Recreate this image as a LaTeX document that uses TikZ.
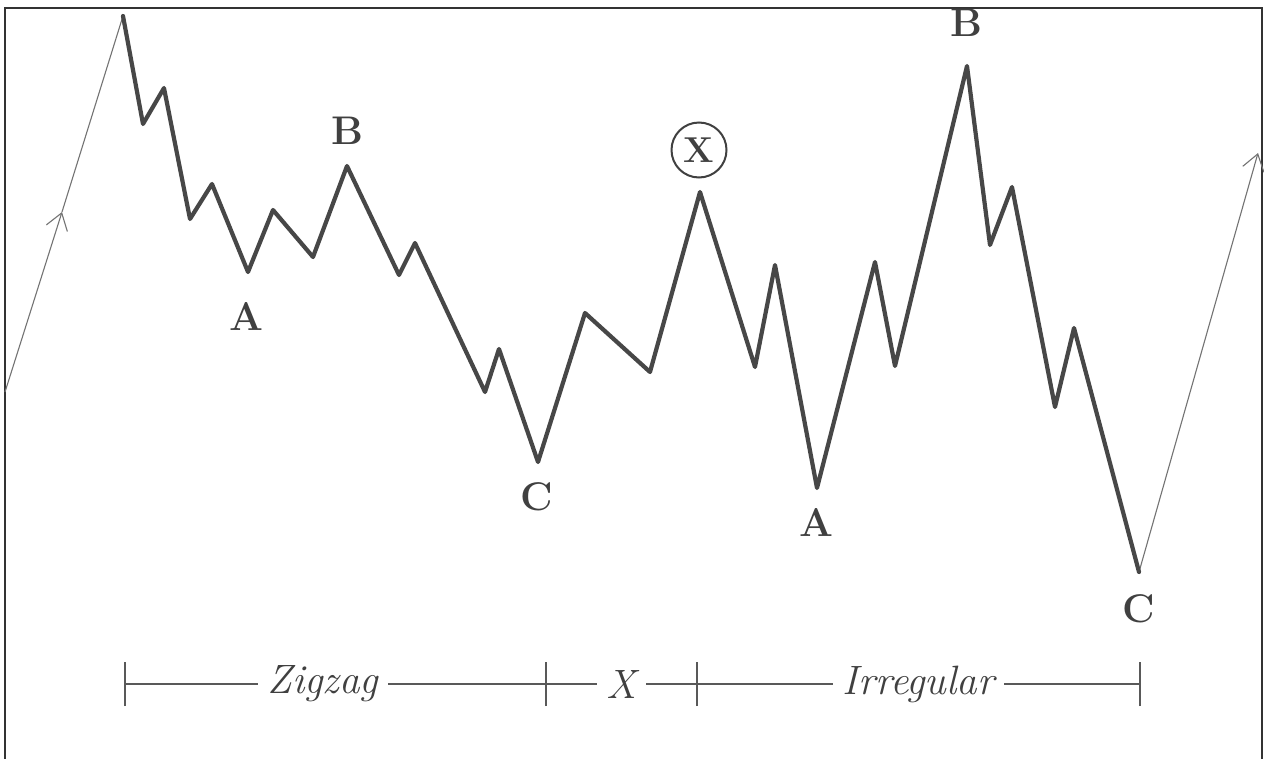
\documentclass[tikz,border=0pt]{standalone}
\usetikzlibrary{arrows.meta}
\begin{document}
\begin{tikzpicture}[x=1pt,y=-1pt,
  frame/.style={line width=2pt, draw=black!80},
  wave/.style={line width=4.2pt, draw=black!72, line join=round, line cap=round},
  trend/.style={line width=1.1pt, draw=black!55},
  barb/.style={-{Straight Barb[length=16pt,width=22pt,line width=1.1pt]}},
  lbl/.style={font=\fontsize{40}{46}\selectfont\bfseries, text=black!75, inner sep=0pt},
  span/.style={line width=1.3pt, draw=black!65},
  spanlbl/.style={font=\fontsize{41}{46}\selectfont\itshape, text=black!75, fill=white, inner xsep=10pt, inner ysep=0pt},
  tick/.style={line width=1.3pt, draw=black!65}]
\useasboundingbox (0,0) rectangle (1264,758);
\fill[white] (0,0) rectangle (1264,758);
\draw[frame] (5,760) -- (5,8) -- (1262,8) -- (1262,760);
% wave vertices
\coordinate (s0) at (5,392);
\coordinate (am) at (62,212);
\coordinate (p0) at (123,16);
\coordinate (p1) at (143,124);
\coordinate (p2) at (164,88);
\coordinate (p3) at (190,219);
\coordinate (p4) at (212,184);
\coordinate (p5) at (248,272);
\coordinate (p6) at (273,210);
\coordinate (p7) at (313,257);
\coordinate (p8) at (347,166);
\coordinate (p9) at (399,275);
\coordinate (p10) at (415,243);
\coordinate (p11) at (485,392);
\coordinate (p12) at (499,349);
\coordinate (p13) at (538,462);
\coordinate (p14) at (585,313);
\coordinate (p15) at (650,372);
\coordinate (p16) at (700,192);
\coordinate (p17) at (755,367);
\coordinate (p18) at (775,265);
\coordinate (p19) at (817,488);
\coordinate (p20) at (875,262);
\coordinate (p21) at (895,366);
\coordinate (p22) at (967,66);
\coordinate (p23) at (990,245);
\coordinate (p24) at (1012,187);
\coordinate (p25) at (1055,407);
\coordinate (p26) at (1074,328);
\coordinate (p27) at (1139,572);
\coordinate (e) at (1258,153);
% trend lines
\draw[trend, barb] (s0) -- (am);
\draw[trend] (am) -- (p0);
\draw[trend, barb] (p27) -- (e);
% wave
\draw[wave] (p0) -- (p1) -- (p2) -- (p3) -- (p4) -- (p5) -- (p6) -- (p7) -- (p8) -- (p9) -- (p10) -- (p11) -- (p12) -- (p13) -- (p14) -- (p15) -- (p16) -- (p17) -- (p18) -- (p19) -- (p20) -- (p21) -- (p22) -- (p23) -- (p24) -- (p25) -- (p26) -- (p27);
% labels
\node[lbl] (la1) at (246,316) {A};
\node[lbl] (lb1) at (347,131) {B};
\node[lbl] (lc1) at (537,497) {C};
\node[lbl, font=\fontsize{36}{40}\selectfont\bfseries] (lx) at (699,150) {X};
\node[draw=black!75, line width=2pt, circle, minimum size=55pt, inner sep=0pt] (cx) at (699,150) {};
\node[lbl] (la2) at (816,522) {A};
\node[lbl] (lb2) at (966,23) {B};
\node[lbl] (lc2) at (1139,609) {C};
% span bar
\coordinate (t1) at (125,684);
\coordinate (t2) at (546,684);
\coordinate (t3) at (697,684);
\coordinate (t4) at (1140,684);
\foreach \t in {t1,t2,t3,t4} \draw[tick] ([yshift=-22pt]\t) -- ([yshift=22pt]\t);
\draw[span] (t1) -- node[spanlbl, pos=0.47] (zz) {Zigzag} (t2)
  -- node[spanlbl, pos=0.5] (xx) {X} (t3)
  -- node[spanlbl, pos=0.5] (ir) {Irregular} (t4);
\end{tikzpicture}
\end{document}
